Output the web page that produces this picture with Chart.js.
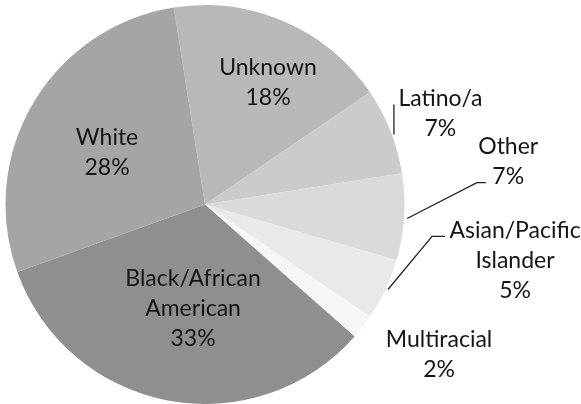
<!DOCTYPE html>
<html lang="en">
<head>
    <meta charset="UTF-8">
    <title>Race / Ethnicity</title>
    <script src="https://cdn.jsdelivr.net/npm/chart.js@4.4.0/dist/chart.umd.min.js"></script>
    <style>
        body {
            margin: 0;
            background: #ffffff;
        }

        #wrap {
            width: 581px;
            height: 404px;
            position: relative;
        }
    </style>
</head>
<body>
    <div id="wrap">
        <canvas id="pieChart" width="581" height="404"></canvas>
    </div>

    <script>
        'use strict';

        // categories, clockwise from just left of 12 o'clock
        const categories = ['Unknown', 'Latino/a', 'Other', 'Asian/Pacific Islander', 'Multiracial', 'Black/African American', 'White'];
        const shares = [18, 7, 7, 5, 2, 33, 28];
        // how each label is broken into lines (percent line added below)
        const labelLines = [
            ['Unknown'],
            ['Latino/a'],
            ['Other'],
            ['Asian/Pacific', 'Islander'],
            ['Multiracial'],
            ['Black/African', 'American'],
            ['White']
        ];

        const sliceColors = ['#b8b8b8', '#cbcbcb', '#dadada', '#e9e9e9', '#f6f6f6', '#8f8f8f', '#a5a5a5'];

        // label block centre, in units of the pie radius from the pie centre
        const labelSpots = [
            [0.316, -0.61],
            [1.18, -0.454],
            [1.52, -0.215],
            [1.554, 0.28],
            [1.173, 0.752],
            [-0.06, 0.522],
            [-0.491, -0.261]
        ];
        // leader lines, same units
        const leaders = [
            null,
            [[0.947, -0.501], [0.947, -0.351]],
            [[1.013, 0.07], [1.363, -0.11], [1.408, -0.11]],
            [[0.917, 0.426], [1.138, 0.16], [1.203, 0.16]],
            null,
            null,
            null
        ];

        // draws the data labels and leader lines after the slices
        const pieLabels = {
            id: 'pieLabels',
            afterDatasetsDraw(chart) {
                const arc = chart.getDatasetMeta(0).data[0];
                const cx = arc.x, cy = arc.y, r = arc.outerRadius;
                const ctx = chart.ctx;
                const lineH = 30;
                ctx.save();

                // leader lines
                ctx.strokeStyle = '#222222';
                ctx.lineWidth = 1.3;
                leaders.forEach(pts => {
                    if (!pts) return;
                    ctx.beginPath();
                    pts.forEach((p, j) => {
                        const x = cx + p[0] * r, y = cy + p[1] * r;
                        if (j === 0) ctx.moveTo(x, y); else ctx.lineTo(x, y);
                    });
                    ctx.stroke();
                });

                // text
                ctx.fillStyle = '#151515';
                ctx.font = '23px Lato, "Liberation Sans", sans-serif';
                ctx.textAlign = 'center';
                ctx.textBaseline = 'middle';
                categories.forEach((c, i) => {
                    const lines = labelLines[i].concat([shares[i] + '%']);
                    const bx = cx + labelSpots[i][0] * r;
                    const by = cy + labelSpots[i][1] * r;
                    const top = by - (lines.length - 1) * lineH / 2;
                    lines.forEach((t, j) => ctx.fillText(t, bx, top + j * lineH));
                });
                ctx.restore();
            }
        };

        const ctxPie = document.getElementById('pieChart').getContext('2d');
        const pieChart = new Chart(ctxPie, {
            type: 'pie',
            data: {
                labels: categories,
                datasets: [{
                    data: shares,
                    backgroundColor: sliceColors,
                    borderWidth: 0
                }]
            },
            options: {
                responsive: false,
                animation: false,
                rotation: -9,
                layout: { padding: { left: 5, right: 176, top: 5, bottom: 0 } },
                plugins: {
                    legend: { display: false },
                    tooltip: { enabled: false }
                }
            },
            plugins: [pieLabels]
        });
    </script>
</body>
</html>
